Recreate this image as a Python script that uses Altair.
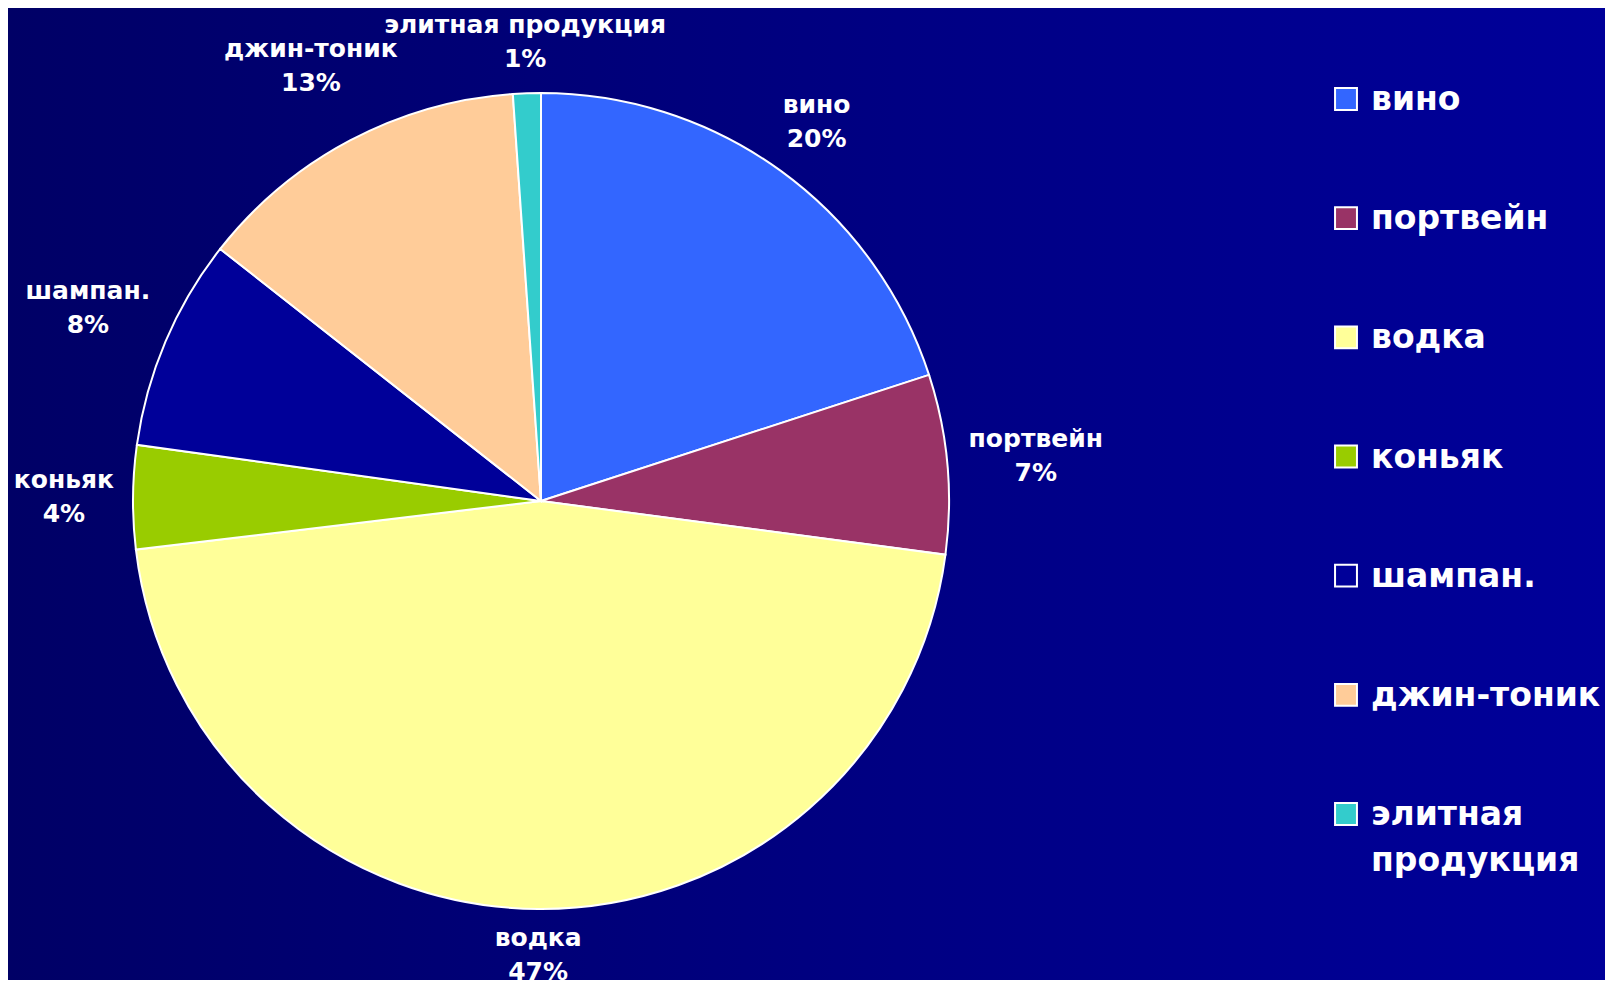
import altair as alt
import pandas as pd

categories = ["вино", "портвейн", "водка", "коньяк", "шампан.", "джин-тоник", "элитная продукция"]
values = [20.0, 7.1, 46.0, 4.1, 8.4, 13.3, 1.1]
percent_labels = ["20%", "7%", "47%", "4%", "8%", "13%", "1%"]
legend_labels = ["вино", "портвейн", "водка", "коньяк", "шампан.", "джин-тоник", "элитная\nпродукция"]
colors = ["#3366FF", "#993366", "#FFFF99", "#99CC00", "#000099", "#FFCC99", "#33CCCC"]

W, H = 1597, 972
CX, CY, R = 533, 493, 408
FONT = "DejaVu Sans"
LABEL_FS = 25
LINE_H = 34
GAP = 16          # gap between pie edge and label box
HALF_H = 30       # half height of a two-line label
CHAR_HW = 8.8     # half width per character

df = pd.DataFrame({
    "cat": categories,
    "val": values,
    "idx": list(range(len(categories))),
    "pct": percent_labels,
    "pie_label": [f"{c}\n{p}" for c, p in zip(categories, percent_labels)],
    "legend_label": legend_labels,
})

color = alt.Color("cat:N", scale=alt.Scale(domain=categories, range=colors), legend=None)
order = alt.Order("idx:Q", sort="ascending")

bg = alt.Chart(pd.DataFrame({"a": [0]})).mark_rect(
    fill=alt.LinearGradient(
        gradient="linear",
        stops=[alt.GradientStop(color="#000066", offset=0),
               alt.GradientStop(color="#00009A", offset=1)],
        x1=0, x2=1, y1=0, y2=0,
    )
).encode(x=alt.value(0), x2=alt.value(W), y=alt.value(0), y2=alt.value(H))

base = alt.Chart(df)

pie = base.mark_arc(outerRadius=R, stroke="white", strokeWidth=2).encode(
    theta=alt.Theta("val:Q", stack=True),
    color=color,
    order=order,
    x=alt.value(CX),
    y=alt.value(CY),
)

pie_text = base.transform_window(
    cum="sum(val)", sort=[alt.SortField("idx", order="ascending")],
    frame=[None, 0],
).transform_joinaggregate(
    total="sum(val)"
).transform_calculate(
    mid="(datum.cum - datum.val / 2) / datum.total * 2 * PI",
    hw=f"max(length(datum.cat), length(datum.pct)) * {CHAR_HW}",
).transform_calculate(
    r=f"{R + GAP} + abs(sin(datum.mid)) * datum.hw + abs(cos(datum.mid)) * {HALF_H}"
).mark_text(
    lineBreak="\n", font=FONT, fontSize=LABEL_FS, fontWeight="bold",
    color="white", lineHeight=LINE_H, align="center", baseline="middle",
    dy=-LINE_H / 2,
).encode(
    theta=alt.Theta("mid:Q", scale=None, stack=None),
    radius=alt.Radius("r:Q", scale=None, stack=None),
    text="pie_label:N",
    x=alt.value(CX),
    y=alt.value(CY),
)

ly = alt.Y("cat:N", scale=alt.Scale(domain=categories, range=[91, 806], padding=0), axis=None)

leg_sym = base.mark_square(size=480, stroke="white", strokeWidth=2, opacity=1).encode(
    x=alt.value(1338),
    y=ly,
    color=color,
)

leg_text = base.mark_text(
    lineBreak="\n", font=FONT, fontSize=33, fontWeight="bold", color="white",
    lineHeight=46, align="left", baseline="alphabetic", dy=11,
).encode(
    x=alt.value(1363),
    y=ly,
    text="legend_label:N",
)

chart = alt.layer(bg, pie, pie_text, leg_sym, leg_text).properties(
    width=W, height=H, padding=0,
    autosize=alt.AutoSizeParams(type="none"),
    background="#000080",
).configure_view(strokeWidth=0)

chart.save("out.html", embed_options={"renderer": "svg", "actions": False})
